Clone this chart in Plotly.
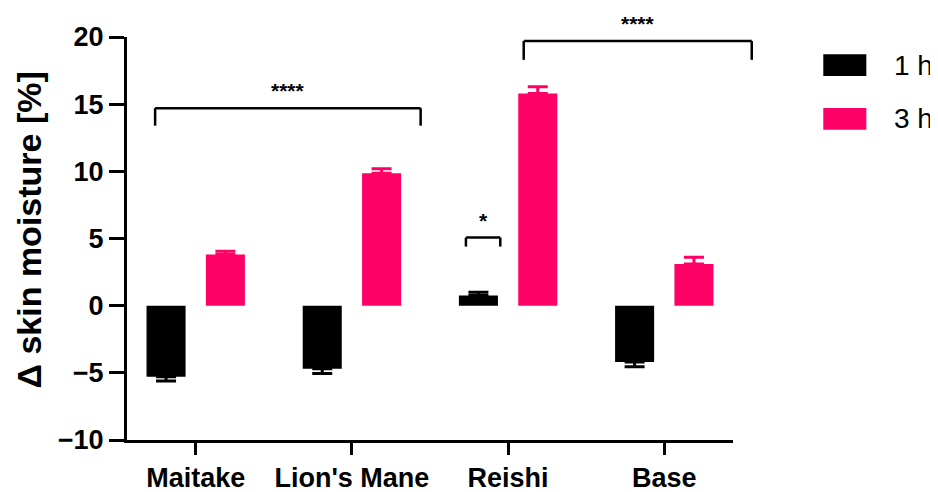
import plotly.graph_objects as go

categories = ["Maitake", "Lion's Mane", "Reishi", "Base"]
h1_values = [-5.3, -4.7, 0.75, -4.2]
h1_errors = [0.3, 0.35, 0.25, 0.35]
h3_values = [3.8, 9.85, 15.8, 3.1]
h3_errors = [0.25, 0.35, 0.5, 0.5]
series_names = ["1 h", "3 h"]
y_ticks = [-10, -5, 0, 5, 10, 15, 20]

# significance brackets: (x_start_idx, x_end_idx, y_top, y_leg_bottom, label, label_y)
brackets = [
    (-0.26, 1.44, 14.7, 13.4, "****", 16.05),
    (1.73, 1.95, 5.07, 4.4, "*", 6.35),
    (2.10, 3.56, 19.7, 18.3, "****", 21.0),
]

BLACK = "#000000"
PINK = "#FF0066"
FONT = "Liberation Sans, Arial, sans-serif"

XR = [-0.44, 3.44]
YR = [-10, 20]


def px(xv):
    return (xv - XR[0]) / (XR[1] - XR[0])


def py(yv):
    return (yv - YR[0]) / (YR[1] - YR[0])


def up_err(vals, errs):
    return [e if v >= 0 else 0 for v, e in zip(vals, errs)]


def down_err(vals, errs):
    return [e if v < 0 else 0 for v, e in zip(vals, errs)]


fig = go.Figure()
for name, vals, errs, color, off in [
    (series_names[0], h1_values, h1_errors, BLACK, -0.315),
    (series_names[1], h3_values, h3_errors, PINK, 0.065),
]:
    fig.add_trace(go.Bar(
        x=categories, y=vals, name=name,
        marker=dict(color=color, line=dict(width=0)),
        width=0.25, offset=off,
        error_y=dict(type="data", symmetric=False,
                     array=up_err(vals, errs), arrayminus=down_err(vals, errs),
                     color=color, thickness=3, width=10),
        showlegend=False,
    ))

shapes = []
annotations = []
for x0, x1, ytop, ybot, label, ly in brackets:
    for (a, b, c, d) in [(x0, ytop, x1, ytop), (x0, ytop, x0, ybot), (x1, ytop, x1, ybot)]:
        shapes.append(dict(type="line", xref="paper", yref="paper",
                           x0=px(a), y0=py(b), x1=px(c), y1=py(d),
                           line=dict(color=BLACK, width=2.5)))
    annotations.append(dict(text="<b>" + label + "</b>", xref="paper", yref="paper",
                            x=px((x0 + x1) / 2), y=py(ly), showarrow=False,
                            font=dict(family=FONT, size=21, color=BLACK),
                            xanchor="center", yanchor="middle"))

# custom legend
legend_items = [(series_names[0], BLACK, 0.930), (series_names[1], PINK, 0.797)]
for name, color, yc in legend_items:
    shapes.append(dict(type="rect", xref="paper", yref="paper",
                       x0=1.149, x1=1.220, y0=yc - 0.027, y1=yc + 0.027,
                       fillcolor=color, line=dict(width=0)))
    annotations.append(dict(text=name, xref="paper", yref="paper",
                            x=1.262, y=yc, showarrow=False, xanchor="left",
                            yanchor="middle",
                            font=dict(family=FONT, size=28, color=BLACK)))

annotations.append(dict(text="<b>\u0394 skin moisture [%]</b>", xref="paper", yref="paper",
                        x=-0.161, y=0.521, textangle=-90, showarrow=False,
                        xanchor="center", yanchor="middle",
                        font=dict(family=FONT, size=34, color=BLACK)))

# page body has an 8px margin, so the figure is 8px smaller on each axis
fig.update_layout(
    width=930, height=484,
    margin=dict(l=119, r=205, t=29, b=52),
    paper_bgcolor="white", plot_bgcolor="white",
    barmode="group",
    shapes=shapes, annotations=annotations,
    xaxis=dict(range=XR, showgrid=False, zeroline=False, automargin=False,
               showline=True, linecolor=BLACK, linewidth=3,
               ticks="outside", ticklen=12, tickwidth=3, tickcolor=BLACK,
               tickfont=dict(family=FONT, size=27, color=BLACK, weight="bold")),
    yaxis=dict(range=YR, tickvals=y_ticks, showgrid=False, zeroline=False,
               automargin=False,
               showline=True, linecolor=BLACK, linewidth=3,
               ticks="outside", ticklen=15, tickwidth=3, tickcolor=BLACK,
               tickfont=dict(family=FONT, size=27, color=BLACK, weight="bold"),
               ticktext=[str(v).replace("-", "\u2212") for v in y_ticks]),
)

fig.write_html("out.html")
